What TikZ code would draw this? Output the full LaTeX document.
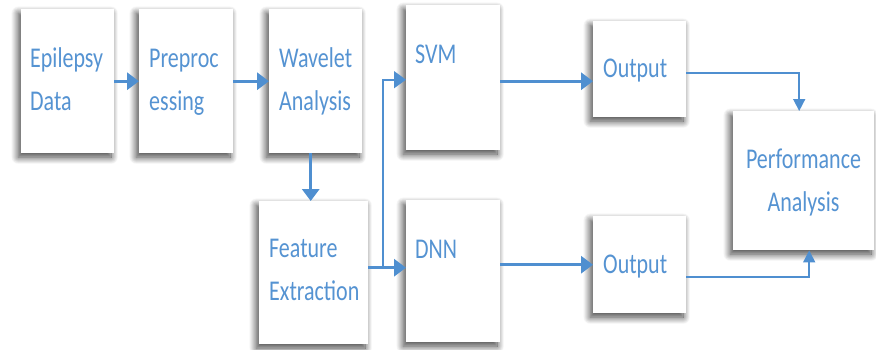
\documentclass[tikz,border=0pt]{standalone}
\usepackage{fontspec}
\setmainfont{Carlito}
\usetikzlibrary{arrows.meta,shadows.blur}
\definecolor{txtblue}{HTML}{5593D2}
\definecolor{arrblue}{HTML}{4F8FD0}
\newcommand{\vs}[1]{\scalebox{1}[1.3]{#1}}
\begin{document}
\begin{tikzpicture}[x=1pt,y=-1pt,
  box/.style={fill=white, draw=none, inner sep=0pt, anchor=north west,
    blur shadow={shadow xshift=-3pt, shadow yshift=-4pt, shadow blur radius=7pt, shadow blur steps=14, shadow opacity=75}},
  lbl/.style={anchor=base west, inner sep=0pt, text=txtblue, font=\fontsize{22}{22}\selectfont},
  clbl/.style={lbl, anchor=base},
  arr/.style={draw=arrblue, line width=3pt, -{Triangle[length=12pt,width=17pt]}},
  brarr/.style={draw=arrblue, line width=1.6pt, -{Triangle[length=12pt,width=17pt]}},
  tarr/.style={draw=arrblue, line width=1.6pt, -{Triangle[length=12pt,width=12pt]}}
]
\useasboundingbox (0,0) rectangle (876,349);
% boxes
\node[box, minimum width=93pt, minimum height=144pt] (ed) at (21,9) {};
\node[box, minimum width=94pt, minimum height=144pt] (pp) at (139,9) {};
\node[box, minimum width=93pt, minimum height=144pt] (wa) at (269,9) {};
\node[box, minimum width=109pt, minimum height=143pt] (fe) at (259,201) {};
\node[box, minimum width=94pt, minimum height=145pt] (svm) at (406,5) {};
\node[box, minimum width=94pt, minimum height=142pt] (dnn) at (406,200) {};
\node[box, minimum width=93pt, minimum height=96pt] (o1) at (593,21) {};
\node[box, minimum width=93pt, minimum height=97pt] (o2) at (593,216) {};
\node[box, minimum width=141pt, minimum height=139pt] (pa) at (733,111) {};
% labels
\node[lbl] (t1a) at (30,67) {\vs{Epilepsy}};
\node[lbl] (t1b) at (30,110) {\vs{Data}};
\node[lbl] (t2a) at (149,67) {\vs{Preproc}};
\node[lbl] (t2b) at (149,110) {\vs{essing}};
\node[lbl] (t3a) at (279,67) {\vs{Wavelet}};
\node[lbl] (t3b) at (279,110) {\vs{Analysis}};
\node[lbl] (t4a) at (269,257) {\vs{Feature}};
\node[lbl] (t4b) at (269,300) {\vs{Extraction}};
\node[lbl] (t5) at (415,63) {\vs{SVM}};
\node[lbl] (t6) at (415,258) {\vs{DNN}};
\node[lbl] (t7) at (603,77) {\vs{Output}};
\node[lbl] (t8) at (603,273) {\vs{Output}};
\node[clbl] (t9a) at (803.5,168) {\vs{Performance}};
\node[clbl] (t9b) at (803.5,211) {\vs{Analysis}};
% connectors
\coordinate (br) at (383,267.5);
\draw[arr] (ed) -- (pp);
\draw[arr] (pp) -- (wa);
\draw[arr] ([xshift=-5pt]wa.south) -- ([xshift=-5pt]wa.south |- fe.north);
\draw[arr] ([yshift=5pt]fe.east) -- ([yshift=5pt]fe.east -| dnn.west);
\draw[brarr] (br) |- ([yshift=-2pt]svm.west);
\draw[arr] ([yshift=-12pt]o1.west -| svm.east) -- ([yshift=-12pt]o1.west);
\draw[arr] (o2.west -| dnn.east) -- (o2.west);
\draw[tarr] ([yshift=-3.5pt]o1.east) -| ([xshift=-4.5pt]pa.north);
\draw[tarr] ([yshift=-12.5pt]o2.east) -| ([xshift=5.5pt]pa.south);
\end{tikzpicture}
\end{document}
